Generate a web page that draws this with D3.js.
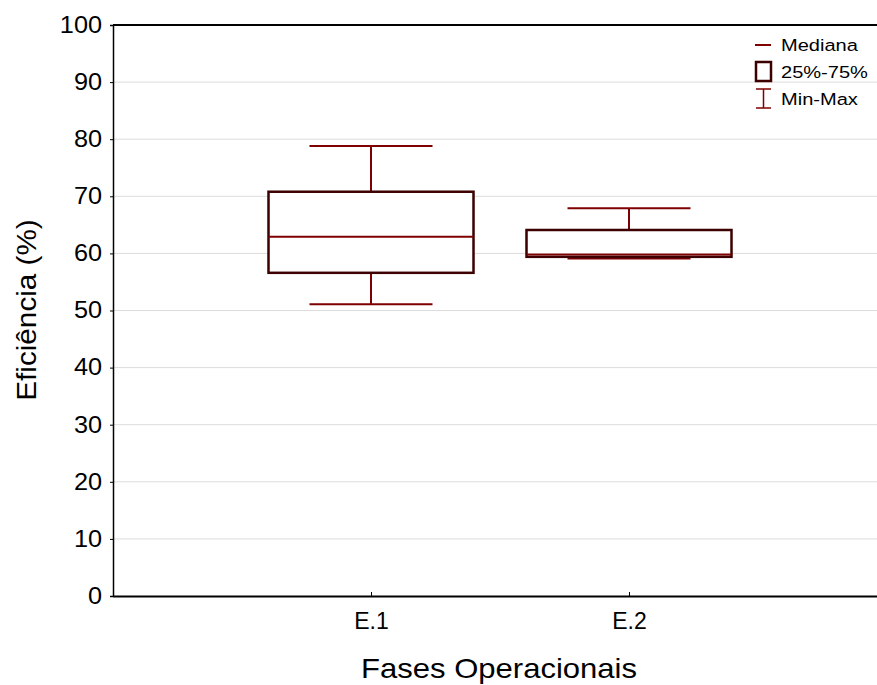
<!DOCTYPE html>
<html>
<head>
<meta charset="utf-8">
<script src="https://cdn.jsdelivr.net/npm/d3@7"></script>
<style>
  body { margin: 0; background: #fff; }
  text { font-family: "Liberation Sans", Arial, sans-serif; }
</style>
</head>
<body>
<div id="chart"></div>
<script>
// dados
const categories = ["E.1", "E.2"];
const minValues = [51.1, 59.1];
const q1Values = [56.6, 59.4];
const medianValues = [62.9, 59.8];
const q3Values = [70.8, 64.1];
const maxValues = [78.8, 67.9];
const yTicks = [0, 10, 20, 30, 40, 50, 60, 70, 80, 90, 100];

const W = 877, H = 685;
const svg = d3.select("#chart").append("svg")
    .attr("width", W)
    .attr("height", H);

const x = d3.scaleLinear().domain([0, categories.length + 1]).range([113, 887]);
const y = d3.scaleLinear().domain([0, 100]).range([596, 25]);

const boxW = 205, capW = 123;
const lineColor = "#7f0000";
const boxColor = "#3d0000";

// grade
svg.append("g").selectAll("line")
    .data(yTicks.filter(d => d > 0 && d < 100))
    .join("line")
    .attr("x1", 114).attr("x2", W)
    .attr("y1", d => y(d)).attr("y2", d => y(d))
    .attr("stroke", "#dcdcdc").attr("stroke-width", 1);

// eixo y
const yAxis = svg.append("g")
    .attr("transform", "translate(113,0)")
    .call(d3.axisLeft(y).tickValues(yTicks).tickSize(3).tickPadding(7));
yAxis.select(".domain").attr("stroke", "#000").attr("stroke-width", 1.5);
yAxis.selectAll("text").attr("font-size", 23).attr("fill", "#000")
    .attr("transform", "scale(1.1,1)");

// eixo x
const xAxis = svg.append("g")
    .attr("transform", "translate(0,596)")
    .call(d3.axisBottom(x).tickValues(categories.map((c, i) => i + 1))
        .tickFormat((d, i) => categories[i]).tickSize(-4).tickPadding(17).tickSizeOuter(0));
xAxis.select(".domain").attr("stroke", "#000").attr("stroke-width", 2);
xAxis.selectAll("text").attr("font-size", 23).attr("fill", "#000");

// borda superior
svg.append("line")
    .attr("x1", 113).attr("x2", W)
    .attr("y1", 25).attr("y2", 25)
    .attr("stroke", "#000").attr("stroke-width", 2);

// boxplots
const boxes = svg.append("g").selectAll("g")
    .data(categories)
    .join("g");

boxes.append("line")
    .attr("x1", (d, i) => x(i + 1)).attr("x2", (d, i) => x(i + 1))
    .attr("y1", (d, i) => y(maxValues[i])).attr("y2", (d, i) => y(q3Values[i]))
    .attr("stroke", lineColor).attr("stroke-width", 2);
boxes.append("line")
    .attr("x1", (d, i) => x(i + 1)).attr("x2", (d, i) => x(i + 1))
    .attr("y1", (d, i) => y(q1Values[i])).attr("y2", (d, i) => y(minValues[i]))
    .attr("stroke", lineColor).attr("stroke-width", 2);
boxes.append("line")
    .attr("x1", (d, i) => x(i + 1) - capW / 2).attr("x2", (d, i) => x(i + 1) + capW / 2)
    .attr("y1", (d, i) => y(maxValues[i])).attr("y2", (d, i) => y(maxValues[i]))
    .attr("stroke", lineColor).attr("stroke-width", 2);
boxes.append("line")
    .attr("x1", (d, i) => x(i + 1) - capW / 2).attr("x2", (d, i) => x(i + 1) + capW / 2)
    .attr("y1", (d, i) => y(minValues[i])).attr("y2", (d, i) => y(minValues[i]))
    .attr("stroke", lineColor).attr("stroke-width", 2);
boxes.append("rect")
    .attr("x", (d, i) => x(i + 1) - boxW / 2)
    .attr("width", boxW)
    .attr("y", (d, i) => y(q3Values[i]))
    .attr("height", (d, i) => y(q1Values[i]) - y(q3Values[i]))
    .attr("fill", "#fff").attr("stroke", boxColor).attr("stroke-width", 2.5);
boxes.append("line")
    .attr("x1", (d, i) => x(i + 1) - boxW / 2).attr("x2", (d, i) => x(i + 1) + boxW / 2)
    .attr("y1", (d, i) => y(medianValues[i])).attr("y2", (d, i) => y(medianValues[i]))
    .attr("stroke", lineColor).attr("stroke-width", 2);

// legenda
const leg = svg.append("g").attr("transform", "translate(755,0)");
leg.append("line").attr("x1", 0).attr("x2", 16).attr("y1", 45).attr("y2", 45)
    .attr("stroke", lineColor).attr("stroke-width", 2);
leg.append("rect").attr("x", 1).attr("y", 62).attr("width", 15).attr("height", 19)
    .attr("fill", "#fff").attr("stroke", boxColor).attr("stroke-width", 2.5);
leg.append("line").attr("x1", 8.5).attr("x2", 8.5).attr("y1", 89).attr("y2", 108)
    .attr("stroke", lineColor).attr("stroke-width", 1.5);
leg.append("line").attr("x1", 1).attr("x2", 16).attr("y1", 89).attr("y2", 89)
    .attr("stroke", lineColor).attr("stroke-width", 1.5);
leg.append("line").attr("x1", 1).attr("x2", 16).attr("y1", 108).attr("y2", 108)
    .attr("stroke", lineColor).attr("stroke-width", 1.5);
leg.selectAll("text")
    .data(["Mediana", "25%-75%", "Min-Max"])
    .join("text")
    .attr("transform", (d, i) => `translate(26,${51 + i * 27}) scale(1.18,1)`)
    .attr("font-size", 17)
    .text(d => d);

// títulos
svg.append("text")
    .attr("transform", "translate(499,678) scale(1.15,1)")
    .attr("text-anchor", "middle")
    .attr("font-size", 27)
    .text("Fases Operacionais");
svg.append("text")
    .attr("transform", "translate(36,310) rotate(-90) scale(1.1,1)")
    .attr("text-anchor", "middle")
    .attr("font-size", 27)
    .text("Eficiência (%)");
</script>
</body>
</html>
